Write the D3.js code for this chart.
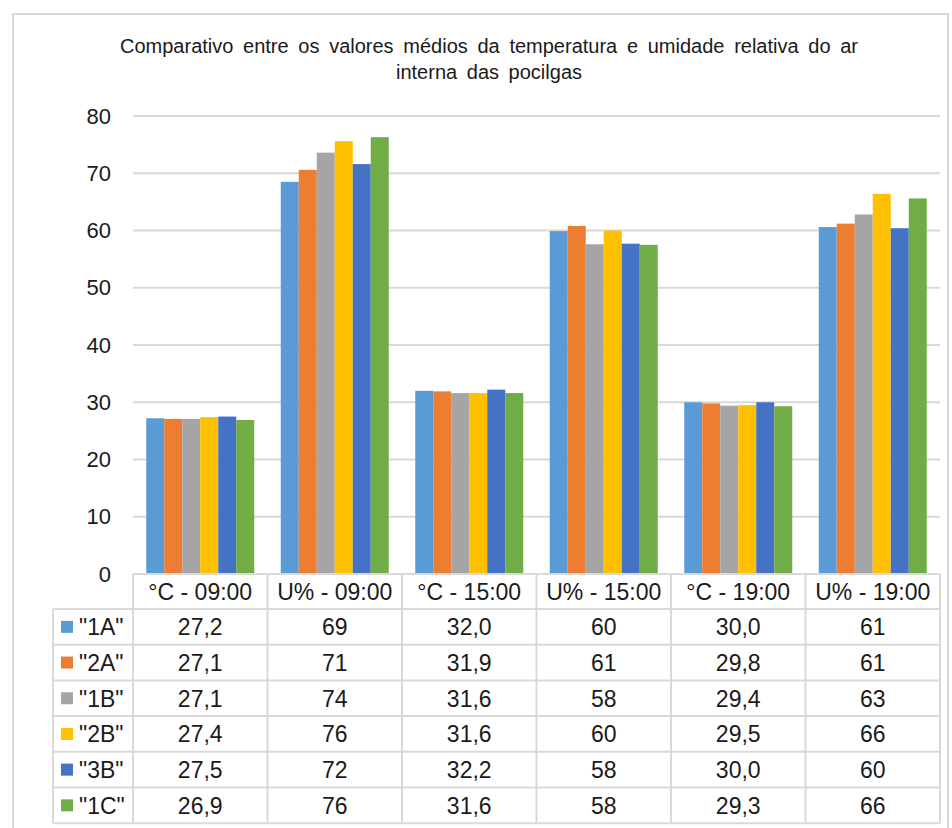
<!DOCTYPE html>
<html>
<head>
<meta charset="utf-8">
<script src="https://cdn.jsdelivr.net/npm/d3@7"></script>
<style>
  html, body { margin: 0; padding: 0; background: #fff; }
  svg { display: block; font-family: "Liberation Sans", Arial, sans-serif; }
</style>
</head>
<body>
<svg id="chart" width="952" height="828"></svg>
<script>
// Categories (column headers of the data table)
const categories = ["°C - 09:00", "U% - 09:00", "°C - 15:00", "U% - 15:00", "°C - 19:00", "U% - 19:00"];
// Decimal places shown in the table for each category
const decimals = [1, 0, 1, 0, 1, 0];
// Series (pig pens)
const seriesNames = ['"1A"', '"2A"', '"1B"', '"2B"', '"3B"', '"1C"'];
const seriesColors = ["#5B9BD5", "#ED7D31", "#A5A5A5", "#FFC000", "#4472C4", "#70AD47"];
// Mean values per series, in category order
const v1A = [27.2, 68.5, 32.0, 59.9, 30.0, 60.6];
const v2A = [27.1, 70.6, 31.9, 60.8, 29.8, 61.2];
const v1B = [27.1, 73.6, 31.6, 57.6, 29.4, 62.8];
const v2B = [27.4, 75.6, 31.6, 60.0, 29.5, 66.4];
const v3B = [27.5, 71.6, 32.2, 57.7, 30.0, 60.4];
const v1C = [26.9, 76.3, 31.6, 57.5, 29.3, 65.6];
const yTicks = [0, 10, 20, 30, 40, 50, 60, 70, 80];
const titleLines = ["Comparativo entre os valores médios da temperatura e umidade relativa do ar", "interna das pocilgas"];

const seriesValues = [v1A, v2A, v1B, v2B, v3B, v1C];
const series = seriesNames.map((name, i) => ({ name, color: seriesColors[i], values: seriesValues[i] }));

const locale = d3.formatLocale({ decimal: ",", thousands: ".", grouping: [3], currency: ["", ""] });
const fmt = decimals.map(d => locale.format("." + d + "f"));

const svg = d3.select("#chart");
const gridColor = "#D9D9D9";
const textColor = "#1a1a1a";

// Outer chart frame
svg.append("rect")
  .attr("x", 13).attr("y", 14).attr("width", 935).attr("height", 840)
  .attr("fill", "#fff").attr("stroke", gridColor).attr("stroke-width", 2);

// Title, two centred lines with loose word spacing
const titleTargets = [738, 186];
const titleY = [53, 79];
titleLines.forEach((line, i) => {
  const t = svg.append("text")
    .attr("x", 489).attr("y", titleY[i])
    .attr("text-anchor", "middle")
    .attr("font-size", 20).attr("fill", textColor)
    .text(line);
  const natural = t.node().getComputedTextLength();
  const spaces = (line.match(/ /g) || []).length;
  if (spaces > 0 && natural < titleTargets[i]) {
    t.style("word-spacing", ((titleTargets[i] - natural) / spaces) + "px");
  }
});

// Scales
const plotLeft = 133, plotRight = 940;
const x = d3.scaleBand().domain(categories).range([plotLeft, plotRight]).paddingInner(0).paddingOuter(0);
const y = d3.scaleLinear().domain([0, 80]).range([574, 116]);
const bw = x.bandwidth();
const groupGap = bw * 0.197;
const xi = d3.scaleBand().domain(seriesNames).range([groupGap / 2, bw - groupGap / 2]).padding(0);

// Gridlines
svg.append("g").selectAll("line")
  .data(yTicks.filter(d => d > 0))
  .join("line")
  .attr("x1", plotLeft).attr("x2", plotRight)
  .attr("y1", d => y(d)).attr("y2", d => y(d))
  .attr("stroke", gridColor).attr("stroke-width", 2);

// Y axis labels
const yAxis = svg.append("g")
  .attr("transform", `translate(${plotLeft - 22},0)`)
  .call(d3.axisLeft(y).tickValues(yTicks).tickSize(0).tickPadding(0).tickFormat(d3.format("d")));
yAxis.select(".domain").remove();
yAxis.selectAll("text")
  .attr("font-family", "'Liberation Sans', Arial, sans-serif")
  .attr("font-size", 22).attr("fill", textColor);

// Bars
const groups = svg.append("g").selectAll("g")
  .data(series).join("g")
  .attr("fill", d => d.color);
groups.selectAll("rect")
  .data(s => s.values.map((v, j) => ({ name: s.name, cat: categories[j], value: v })))
  .join("rect")
  .attr("x", d => x(d.cat) + xi(d.name))
  .attr("width", xi.bandwidth())
  .attr("y", d => y(d.value))
  .attr("height", d => y(0) - y(d.value));

// Data table
const headerTop = y(0);
const headerH = 35;
const rowH = 35.7;
const legendLeft = 53;
const tableBottom = headerTop + headerH + rowH * series.length;
const table = svg.append("g");
const lineAttr = sel => sel.attr("stroke", gridColor).attr("stroke-width", 2).attr("fill", "none");

// Horizontal lines
table.append("line").call(lineAttr)
  .attr("x1", plotLeft).attr("x2", plotRight).attr("y1", headerTop).attr("y2", headerTop);
d3.range(series.length + 1).forEach(r => {
  const yy = headerTop + headerH + r * rowH;
  table.append("line").call(lineAttr)
    .attr("x1", legendLeft).attr("x2", plotRight).attr("y1", yy).attr("y2", yy);
});
// Vertical lines
table.append("line").call(lineAttr)
  .attr("x1", legendLeft).attr("x2", legendLeft).attr("y1", headerTop + headerH).attr("y2", tableBottom);
categories.concat([null]).forEach((c, j) => {
  const xx = c === null ? plotRight : x(c);
  table.append("line").call(lineAttr)
    .attr("x1", xx).attr("x2", xx).attr("y1", headerTop).attr("y2", tableBottom);
});

// Header labels
table.append("g").selectAll("text")
  .data(categories).join("text")
  .attr("x", d => x(d) + bw / 2)
  .attr("y", headerTop + headerH / 2)
  .attr("dy", "0.36em")
  .attr("text-anchor", "middle")
  .attr("font-size", 23).attr("fill", textColor)
  .text(d => d);

// Rows
series.forEach((s, i) => {
  const cy = headerTop + headerH + i * rowH + rowH / 2;
  table.append("rect")
    .attr("x", 61).attr("y", cy - 6).attr("width", 12).attr("height", 12)
    .attr("fill", s.color);
  table.append("text")
    .attr("x", 79).attr("y", cy).attr("dy", "0.36em")
    .attr("font-size", 23).attr("fill", textColor)
    .text(s.name);
  table.append("g").selectAll("text")
    .data(s.values).join("text")
    .attr("x", (d, j) => x(categories[j]) + bw / 2)
    .attr("y", cy).attr("dy", "0.36em")
    .attr("text-anchor", "middle")
    .attr("font-size", 23).attr("fill", textColor)
    .text((d, j) => fmt[j](d));
});
</script>
</body>
</html>
